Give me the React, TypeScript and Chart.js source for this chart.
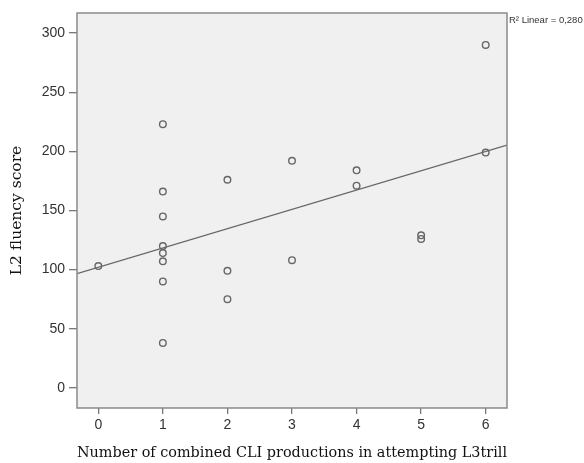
import React, { useEffect, useRef } from 'react';
import { Chart, registerables } from 'chart.js';

Chart.register(...registerables);

const cliCounts = [0, 1, 1, 1, 1, 1, 1, 1, 1, 2, 2, 2, 3, 3, 4, 4, 5, 5, 6, 6];
const fluencyScores = [103, 223, 166, 145, 120, 114, 107, 90, 38, 176, 99, 75, 192, 108, 184, 171, 129, 126, 290, 199];
const xTicks = [0, 1, 2, 3, 4, 5, 6];
const yTicks = [0, 50, 100, 150, 200, 250, 300];
const xRange = [-0.33, 6.33];
const yRange = [-17, 317];
const xTitle = 'Number of combined CLI productions in attempting L3trill';
const yTitle = 'L2 fluency score';
const r2Label = 'R² Linear = 0,280';

function fitLine(xs: number[], ys: number[]) {
  const n = xs.length;
  const mx = xs.reduce((a, b) => a + b, 0) / n;
  const my = ys.reduce((a, b) => a + b, 0) / n;
  let sxx = 0, sxy = 0;
  for (let i = 0; i < n; i++) {
    sxx += (xs[i] - mx) ** 2;
    sxy += (xs[i] - mx) * (ys[i] - my);
  }
  const slope = sxy / sxx;
  return { slope, intercept: my - slope * mx };
}

const framePlugin = {
  id: 'frame',
  beforeDraw(chart: any) {
    const { ctx, chartArea } = chart;
    const { left, top, right, bottom } = chartArea;
    ctx.save();
    ctx.fillStyle = '#f0f0f0';
    ctx.fillRect(left, top, right - left, bottom - top);
    ctx.restore();
  },
  afterDatasetsDraw(chart: any) {
    const { ctx, chartArea } = chart;
    const { left, top, right, bottom } = chartArea;
    ctx.save();
    ctx.strokeStyle = '#8a8a8a';
    ctx.lineWidth = 1.5;
    ctx.strokeRect(left, top, right - left, bottom - top);
    ctx.fillStyle = '#333';
    ctx.font = '9.5px "Liberation Sans", Arial, sans-serif';
    ctx.textBaseline = 'middle';
    ctx.textAlign = 'left';
    ctx.fillText(r2Label, right + 2, top + 7);
    ctx.restore();
  },
};

export default function App() {
  const ref = useRef<HTMLCanvasElement | null>(null);
  useEffect(() => {
    if (!ref.current) return;
    const { slope, intercept } = fitLine(cliCounts, fluencyScores);
    const chart = new Chart(ref.current, {
      type: 'scatter',
      data: {
        datasets: [
          {
            type: 'line',
            data: xRange.map((x) => ({ x, y: intercept + slope * x })),
            borderColor: '#666',
            borderWidth: 1.3,
            pointRadius: 0,
            fill: false,
          } as any,
          {
            data: cliCounts.map((x, i) => ({ x, y: fluencyScores[i] })),
            pointRadius: 3.3,
            pointBorderWidth: 1.4,
            pointBorderColor: '#666',
            pointBackgroundColor: 'rgba(0,0,0,0)',
          },
        ],
      },
      options: {
        responsive: false,
        animation: false,
        layout: { padding: { top: 13, right: 77, left: 0, bottom: 0 } },
        plugins: { legend: { display: false }, tooltip: { enabled: false } },
        scales: {
          x: {
            type: 'linear',
            min: xRange[0],
            max: xRange[1],
            afterBuildTicks: (s: any) => { s.ticks = xTicks.map((v) => ({ value: v })); },
            afterFit: (s: any) => { s.height = 55; },
            grid: { drawOnChartArea: false, drawTicks: true, tickLength: 6, color: '#777', lineWidth: 1.3 },
            border: { display: false },
            ticks: { color: '#333', font: { family: '"Liberation Sans", Arial, sans-serif', size: 14 }, padding: 3 },
            title: {
              display: true,
              text: xTitle,
              color: '#111',
              font: { family: '"DejaVu Serif", serif', size: 15.6 },
              padding: { top: 0, bottom: 1 },
            },
          },
          y: {
            type: 'linear',
            min: yRange[0],
            max: yRange[1],
            afterBuildTicks: (s: any) => { s.ticks = yTicks.map((v) => ({ value: v })); },
            afterFit: (s: any) => { s.width = 77; },
            grid: { drawOnChartArea: false, drawTicks: true, tickLength: 8, color: '#777', lineWidth: 1.3 },
            border: { display: false },
            ticks: { color: '#333', font: { family: '"Liberation Sans", Arial, sans-serif', size: 14 }, padding: 4 },
            title: {
              display: true,
              text: yTitle,
              color: '#111',
              font: { family: '"DejaVu Serif", serif', size: 15.5 },
              padding: { top: 8, bottom: 0 },
            },
          },
        },
      },
      plugins: [framePlugin],
    });
    return () => chart.destroy();
  }, []);
  return (
    <div style={{ position: 'absolute', left: 0, top: 0, width: 584, height: 463, background: '#fff' }}>
      <canvas ref={ref} width={584} height={463} />
    </div>
  );
}
